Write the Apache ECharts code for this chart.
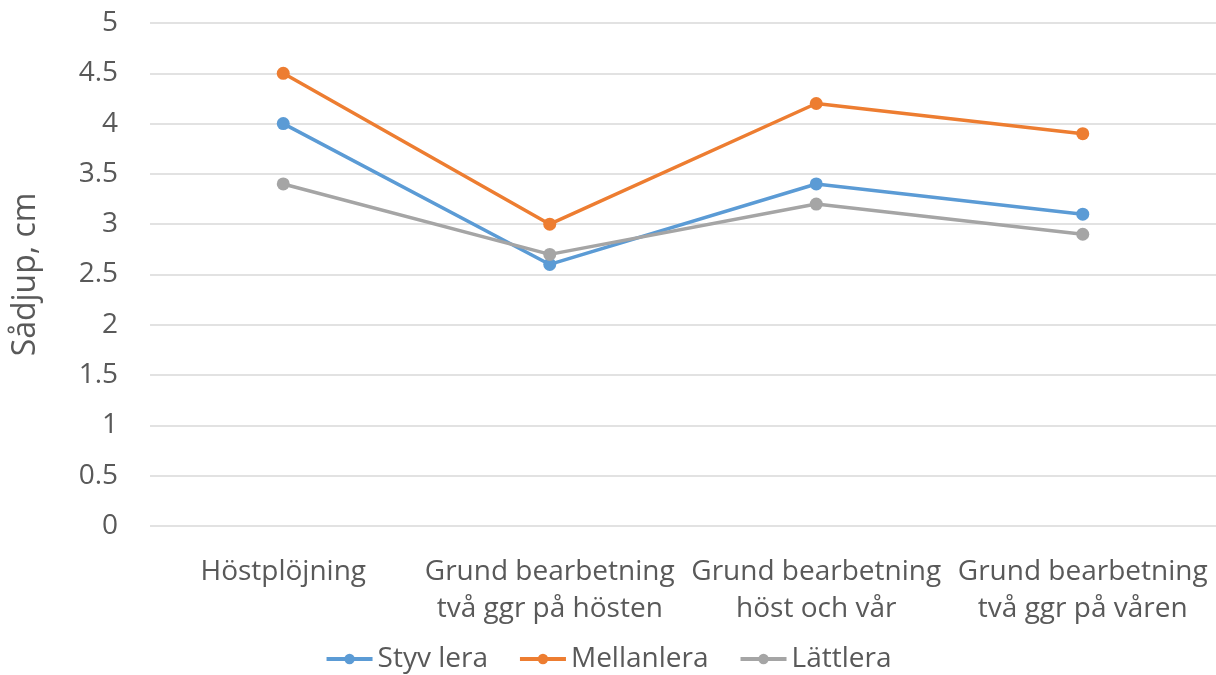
<!DOCTYPE html>
<html>
<head>
<meta charset="utf-8">
<script src="https://cdn.jsdelivr.net/npm/echarts@6/dist/echarts.min.js"></script>
<style>
  html, body { margin: 0; padding: 0; background: #fff; }
  #chart { width: 1216px; height: 675px; }
</style>
</head>
<body>
<div id="chart"></div>
<script>
const categories = [
  'Höstplöjning',
  'Grund bearbetning\ntvå ggr på hösten',
  'Grund bearbetning\nhöst och vår',
  'Grund bearbetning\ntvå ggr på våren'
];
const styvLera = [4.0, 2.6, 3.4, 3.1];
const mellanlera = [4.5, 3.0, 4.2, 3.9];
const lattlera = [3.4, 2.7, 3.2, 2.9];

const textColor = '#595959';
const font = '"Open Sans", "Noto Sans", sans-serif';

let chart = echarts.init(document.getElementById('chart'));

function line(name, data, color) {
  return {
    name: name,
    type: 'line',
    data: data,
    symbol: 'circle',
    symbolSize: 13,
    color: color,
    lineStyle: { width: 3.5, color: color },
    itemStyle: { color: color }
  };
}

let option = {
  animation: false,
  textStyle: { fontFamily: font },
  grid: { left: 150, right: 0, top: 23, bottom: 149 },
  legend: {
    top: 640,
    left: 'center',
    itemWidth: 46,
    itemHeight: 13,
    itemGap: 30,
    lineStyle: { width: 4 },
    textStyle: { color: textColor, fontSize: 28, fontFamily: font }
  },
  xAxis: {
    type: 'category',
    data: categories,
    axisLine: { show: false },
    axisTick: { show: false },
    axisLabel: {
      color: textColor,
      fontSize: 28,
      lineHeight: 37,
      margin: 28,
      interval: 0,
      fontFamily: font
    }
  },
  yAxis: {
    type: 'value',
    min: 0,
    max: 5,
    interval: 0.5,
    name: 'Sådjup, cm',
    nameLocation: 'middle',
    nameGap: 108,
    nameTextStyle: { color: textColor, fontSize: 32, fontFamily: font },
    axisLine: { show: false },
    axisTick: { show: false },
    axisLabel: { color: textColor, fontSize: 28, margin: 32, fontFamily: font },
    splitLine: { lineStyle: { color: '#d9d9d9', width: 1.5 } }
  },
  series: [
    line('Styv lera', styvLera, '#5B9BD5'),
    line('Mellanlera', mellanlera, '#ED7D31'),
    line('Lättlera', lattlera, '#A5A5A5')
  ]
};
chart.setOption(option);
</script>
</body>
</html>
